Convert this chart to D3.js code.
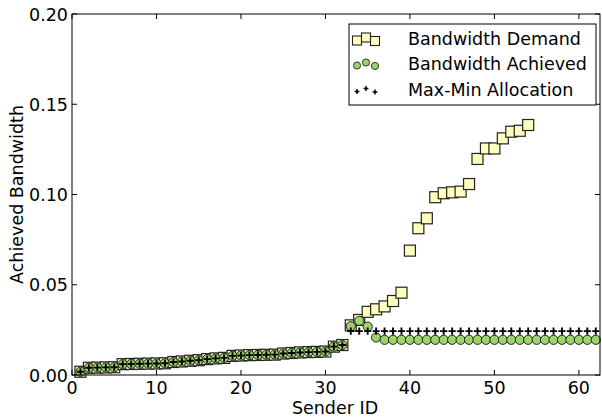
<!DOCTYPE html>
<html>
<head>
<meta charset="utf-8">
<script src="https://cdn.jsdelivr.net/npm/d3@7/dist/d3.min.js"></script>
<style>
  body { margin: 0; background: #fff; }
  svg text { font-family: "DejaVu Sans", sans-serif; fill: #000; }
</style>
</head>
<body>
<div id="chart"></div>
<script>
var demandIds = [1,2,3,4,5,6,7,8,9,10,11,12,13,14,15,16,17,18,19,20,21,22,23,24,25,26,27,
  28,29,30,31,32,33,34,35,36,37,38,39,40,41,42,43,44,45,46,47,48,49,50,51,52,53,54];
var demand = [0.0018,0.0040,0.0041,0.0042,0.0043,0.0060,0.0061,0.0062,0.0063,0.0064,0.0065,
  0.0072,0.0075,0.0079,0.0082,0.0088,0.0092,0.0095,0.0106,0.0108,0.0110,0.0111,0.0112,0.0113,
  0.0119,0.0122,0.0125,0.0127,0.0128,0.0130,0.0157,0.0166,
  0.0275,0.0305,0.0350,0.0364,0.0380,0.0410,0.0456,0.0689,0.0813,0.0868,0.0985,0.1007,
  0.1012,0.1016,0.1058,0.1197,0.1255,0.1255,0.1311,0.1348,0.1353,0.1385];

var senderIds = [1,2,3,4,5,6,7,8,9,10,11,12,13,14,15,16,17,18,19,20,21,22,23,24,25,26,27,
  28,29,30,31,32,33,34,35,36,37,38,39,40,41,42,43,44,45,46,47,48,49,50,51,52,53,54,55,56,
  57,58,59,60,61,62];
var achieved = [0.0018,0.0040,0.0041,0.0042,0.0043,0.0060,0.0061,0.0062,0.0063,0.0064,0.0065,
  0.0072,0.0075,0.0079,0.0082,0.0088,0.0092,0.0095,0.0106,0.0108,0.0110,0.0111,0.0112,0.0113,
  0.0119,0.0122,0.0125,0.0127,0.0128,0.0130,0.0157,0.0166,
  0.0270,0.0300,0.0268,0.0208,0.0195,0.0195,0.0195,0.0195,0.0195,0.0195,0.0195,0.0195,
  0.0195,0.0195,0.0195,0.0195,0.0195,0.0195,0.0195,0.0195,0.0195,0.0195,0.0195,0.0195,
  0.0195,0.0195,0.0195,0.0195,0.0195,0.0195];
var maxMin = [0.0018,0.0040,0.0041,0.0042,0.0043,0.0060,0.0061,0.0062,0.0063,0.0064,0.0065,
  0.0072,0.0075,0.0079,0.0082,0.0088,0.0092,0.0095,0.0106,0.0108,0.0110,0.0111,0.0112,0.0113,
  0.0119,0.0122,0.0125,0.0127,0.0128,0.0130,0.0157,0.0166,
  0.0243,0.0243,0.0243,0.0243,0.0243,0.0243,0.0243,0.0243,0.0243,0.0243,0.0243,0.0243,
  0.0243,0.0243,0.0243,0.0243,0.0243,0.0243,0.0243,0.0243,0.0243,0.0243,0.0243,0.0243,
  0.0243,0.0243,0.0243,0.0243,0.0243,0.0243];

var xTicks = [0,10,20,30,40,50,60];
var yTicks = [0,0.05,0.10,0.15,0.20];
var legendLabels = ["Bandwidth Demand","Bandwidth Achieved","Max-Min Allocation"];

var width = 602, height = 417;
var margin = {top: 14, right: 2, bottom: 42, left: 72};
var fs = 17.5;

var svg = d3.select("#chart").append("svg")
  .attr("width", width)
  .attr("height", height);

var x = d3.scaleLinear().domain([0, 62.5]).range([margin.left, width - margin.right]);
var y = d3.scaleLinear().domain([0, 0.2]).range([height - margin.bottom, margin.top]);

var demandPts = demandIds.map(function(id, i){ return {x: id, y: demand[i]}; });
var achievedPts = senderIds.map(function(id, i){ return {x: id, y: achieved[i]}; });
var maxMinPts = senderIds.map(function(id, i){ return {x: id, y: maxMin[i]}; });

var sq = 11;
svg.append("g").selectAll("rect")
  .data(demandPts)
  .enter().append("rect")
    .attr("x", function(d){ return x(d.x) - sq/2; })
    .attr("y", function(d){ return y(d.y) - sq/2; })
    .attr("width", sq)
    .attr("height", sq)
    .attr("fill", "#ffffc0")
    .attr("stroke", "#222")
    .attr("stroke-width", 1.2);

svg.append("g").selectAll("circle")
  .data(achievedPts)
  .enter().append("circle")
    .attr("cx", function(d){ return x(d.x); })
    .attr("cy", function(d){ return y(d.y); })
    .attr("r", 4.6)
    .attr("fill", "#9dd46a")
    .attr("stroke", "#222")
    .attr("stroke-width", 1);

function plusPath(s){
  return "M" + (-s) + ",0H" + s + "M0," + (-s) + "V" + s;
}
svg.append("g").selectAll("path")
  .data(maxMinPts)
  .enter().append("path")
    .attr("transform", function(d){ return "translate(" + x(d.x) + "," + y(d.y) + ")"; })
    .attr("d", plusPath(3.6))
    .attr("stroke", "#000")
    .attr("stroke-width", 1.9)
    .attr("fill", "none");

// axes, ticks pointing inward on all four sides
var x0 = margin.left, x1 = width - margin.right, y0 = height - margin.bottom, y1 = margin.top;
var axisG = svg.append("g");
axisG.append("rect")
  .attr("x", x0).attr("y", y1)
  .attr("width", x1 - x0).attr("height", y0 - y1)
  .attr("fill", "none").attr("stroke", "#000").attr("stroke-width", 1);

var tl = 5;
xTicks.forEach(function(t){
  axisG.append("line").attr("x1", x(t)).attr("x2", x(t)).attr("y1", y0).attr("y2", y0 - tl)
    .attr("stroke", "#000");
  axisG.append("line").attr("x1", x(t)).attr("x2", x(t)).attr("y1", y1).attr("y2", y1 + tl)
    .attr("stroke", "#000");
  axisG.append("text").attr("x", x(t)).attr("y", y0 + 19)
    .attr("text-anchor", "middle").style("font-size", fs + "px").text(t);
});
yTicks.forEach(function(t){
  axisG.append("line").attr("x1", x0).attr("x2", x0 + tl).attr("y1", y(t)).attr("y2", y(t))
    .attr("stroke", "#000");
  axisG.append("line").attr("x1", x1).attr("x2", x1 - tl).attr("y1", y(t)).attr("y2", y(t))
    .attr("stroke", "#000");
  axisG.append("text").attr("x", x0 - 4).attr("y", y(t) + 6.5)
    .attr("text-anchor", "end").style("font-size", fs + "px").text(d3.format(".2f")(t));
});

svg.append("text")
  .attr("x", (x0 + x1) / 2 - 1).attr("y", height - 3)
  .attr("text-anchor", "middle").style("font-size", fs + "px").text("Sender ID");
svg.append("text")
  .attr("transform", "translate(23," + ((y0 + y1) / 2) + ") rotate(-90)")
  .attr("text-anchor", "middle").style("font-size", fs + "px").text("Achieved Bandwidth");

// legend
var lg = svg.append("g").attr("transform", "translate(349,24)");
lg.append("rect").attr("width", 247).attr("height", 81)
  .attr("fill", "#fff").attr("stroke", "#000").attr("stroke-width", 1);
var mx = [8, 17, 26];
var yoff = [1.5, -1.5, 2];
var rowY = [15, 40, 66];
mx.forEach(function(m, i){
  lg.append("rect").attr("x", m - 4.5).attr("y", rowY[0] + yoff[i] - 4.5)
    .attr("width", 9).attr("height", 9)
    .attr("fill", "#ffffc0").attr("stroke", "#222").attr("stroke-width", 1.1);
  lg.append("circle").attr("cx", m).attr("cy", rowY[1] + yoff[i]).attr("r", 3.6)
    .attr("fill", "#9dd46a").attr("stroke", "#222").attr("stroke-width", 0.9);
  lg.append("path").attr("transform", "translate(" + m + "," + (rowY[2] + yoff[i]) + ")")
    .attr("d", plusPath(2.4)).attr("stroke", "#000").attr("stroke-width", 1.5);
});
legendLabels.forEach(function(l, i){
  lg.append("text").attr("x", 59).attr("y", rowY[i] + 6)
    .style("font-size", fs + "px").text(l);
});
</script>
</body>
</html>
